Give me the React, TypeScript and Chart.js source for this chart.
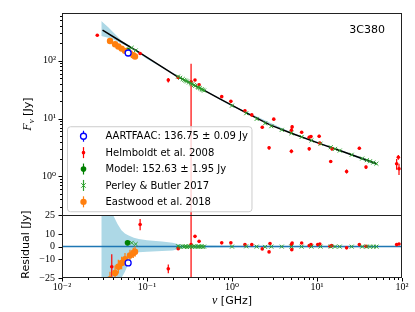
import React, { useEffect, useRef } from "react";
import { Chart, registerables } from "chart.js";

Chart.register(...registerables);

// ---------------- data ----------------
const xTickValues = [0.01, 0.1, 1, 10, 100];
const xTickLabels = ["10⁻²", "10⁻¹", "10⁰", "10¹", "10²"];
const fluxTickValues = [1, 10, 100];
const fluxTickLabels = ["10⁰", "10¹", "10²"];
const resTickValues = [-25, -10, 0, 10, 25];
const resTickLabels = ["−25", "−10", "0", "10", "25"];

// fitted model curve
const modelFreq = [0.03, 0.05, 0.08, 0.15, 0.22, 0.4, 0.72, 1.4, 2.8, 5, 10.8, 20, 50];
const modelFlux = [340, 214, 141, 79, 55, 35, 22, 13.1, 7.8, 5.6, 3.7, 2.7, 1.66];

// model uncertainty band (top panel)
const bandFreq = [0.029, 0.035, 0.04, 0.05, 0.06, 0.07, 0.08, 0.1, 0.2, 0.5, 1, 5, 20, 50];
const bandUpper = [490, 380, 311, 225, 190, 162, 143, 114, 62, 30.5, 17.3, 5.75, 2.78, 1.76];
const bandLower = [270, 250, 235, 200, 176, 154, 137, 108, 60, 29, 16.3, 5.45, 2.62, 1.56];

// model uncertainty band (residual panel)
const resBandFreq = [0.029, 0.033, 0.037, 0.04, 0.045, 0.05, 0.055, 0.06, 0.07, 0.08, 0.1, 0.15, 0.2, 0.25, 0.3, 1, 10, 50];
const resBandUpper = [25, 25, 25, 25, 18, 13, 10.5, 9, 7, 6, 5, 4, 3, 1.5, 1, 0.6, 0.5, 0.5];
const resBandLower = [-25, -25, -25, -25, -25, -25, -20, -14, -6, -4.5, -4, -3.5, -3, -1.5, -1, -0.6, -0.5, -0.5];

const zeroFreq = [0.01, 100];
const zeroRes = [0, 0];

// AARTFAAC
const aartFreq = [0.06];
const aartFlux = [136.75];
const aartErr = [0.09];
const aartRes = [-13];
const aartResErr = [0.09];

// Helmboldt et al. 2008
const helmFreq = [0.026, 0.083, 0.178, 0.233, 0.33, 0.367, 0.41, 0.757, 0.97, 1.42, 1.71, 2.27, 2.73, 3.1, 5.0, 5.1, 5.0, 6.6, 8.1, 8.5, 8.1, 10.6, 10.8, 14.5, 15, 22.3, 31.5, 37.7, 86.5, 90.6, 92.2];
const helmFlux = [277, 134, 46.4, 51.5, 43.4, 46.5, 38.6, 24, 19.9, 13.7, 11.6, 7.08, 3.12, 9.8, 6.3, 7.2, 2.73, 5.8, 4.76, 4.9, 3.0, 4.95, 3.75, 1.81, 3.0, 1.22, 3.07, 1.45, 1.66, 2.15, 1.36];
const helmErr = [10, 5, 4, 2, 46, 2, 2, 1, 1, 0.7, 0.6, 0.4, 0.2, 0.5, 0.8, 0.5, 0.2, 0.3, 0.3, 0.3, 0.2, 0.3, 0.3, 0.1, 0.2, 0.1, 0.2, 0.1, 0.35, 0.2, 0.3];
const helmResFreq = [0.0385, 0.0743, 0.083, 0.178, 0.233, 0.33, 0.367, 0.41, 0.757, 0.97, 1.42, 1.71, 2.27, 2.73, 2.8, 5.0, 5.05, 5.1, 6.6, 8.1, 8.5, 10.2, 10.8, 14.2, 14.9, 22.3, 31.5, 37.7, 86.5, 92.2];
const helmRes = [-16, -4.2, 17.6, -17.7, -1.6, 1.6, 8.2, 4.2, 3, 3, 1.6, 1.6, -1.8, -4.2, 2.5, 1.6, -2.4, 2.9, 2.9, 0.8, 1.6, 1.6, 2.1, 0.2, 0.8, -1, 1.6, 0.2, 1.6, 2.1];
const helmResErr = [10, 0.8, 4.5, 3.5, 0.5, 46, 1, 0.8, 0.5, 0.5, 0.4, 0.4, 0.3, 0.3, 0.3, 0.6, 0.6, 0.6, 0.3, 0.3, 0.3, 0.3, 0.3, 0.2, 0.2, 0.2, 0.2, 0.2, 0.5, 0.5];

// Model value at the AARTFAAC frequency
const modelPtFreq = [0.059];
const modelPtFlux = [152.63];
const modelPtErr = [1.95];
const modelPtRes = [3];
const modelPtResErr = [1.95];

// Perley & Butler 2017
const pbFreq = [0.066, 0.0735, 0.232, 0.246, 0.263, 0.275, 0.285, 0.296, 0.312, 0.328, 0.341, 0.357, 0.37, 0.394, 0.405, 0.42, 0.439, 0.452, 0.469, 1.0, 1.47, 1.95, 2.45, 2.9, 3.85, 5.0, 6.6, 8.6, 11.0, 14.5, 16.3, 18.5, 25.6, 34, 38.5, 42, 46, 50];
const pbFlux = [168, 151, 53.5, 51.0, 48.4, 46.8, 45.4, 44.1, 42.3, 40.6, 39.4, 38.0, 36.9, 35.2, 34.4, 33.4, 32.3, 31.5, 30.6, 16.8, 12.4, 9.9, 8.3, 7.4, 6.4, 5.6, 4.83, 4.2, 3.69, 3.2, 3.0, 2.8, 2.37, 2.04, 1.91, 1.83, 1.74, 1.66];
const pbErr = [3, 3, 1, 1, 1, 1, 1, 1, 1, 1, 1, 1, 1, 1, 1, 1, 1, 1, 1, 0.3, 0.2, 0.2, 0.15, 0.15, 0.1, 0.1, 0.1, 0.1, 0.08, 0.07, 0.06, 0.06, 0.05, 0.05, 0.05, 0.05, 0.05, 0.05];
const pbRes = [3, 2, 0.3, -0.2, 0.2, 0, 0.3, -0.3, 0, 0.2, -0.2, 0.3, 0, -0.2, 0.2, 0, 0.3, -0.3, 0, 0, 0.2, 0, -0.2, 0, 0, 0, 0, 0, 0, 0, 0, 0, 0, 0, 0, 0, 0, 0];

// Eastwood et al. 2018
const eastFreq = [0.0367, 0.0421, 0.046, 0.0503, 0.0551, 0.063, 0.069, 0.0723];
const eastFlux = [221, 194, 177, 163, 149, 136, 125, 119];
const eastErr = [12, 10, 9, 8, 7, 6, 6, 5];
const eastRes = [-26, -21, -16, -13, -10, -7, -5, -4];
const eastResErr = [6, 6, 5.5, 5, 5, 4.5, 4, 4];

// ---------------- styles ----------------
const BLUE = "#0000ff";
const RED = "#ff0000";
const GREEN = "#008000";
const PBGREEN = "#2ca02c";
const ORANGE = "#ff7f0e";
const BAND = "#add8e6";
const ZERO = "#1f77b4";
const TICK_FONT = "'Liberation Serif', 'DejaVu Serif', serif";
const SANS = "'DejaVu Sans', sans-serif";
const MATH = "'Liberation Serif', 'DejaVu Serif', serif";

const pts = (xs: number[], ys: number[]) => xs.map((x, i) => ({ x, y: ys[i] }));

function pointDs(label: string, xs: number[], ys: number[], errs: number[], axis: string, style: any, legend: boolean) {
  return {
    type: "scatter",
    label,
    data: pts(xs, ys),
    errs,
    xAxisID: "x",
    yAxisID: axis,
    legend,
    clip: 0,
    ...style,
  };
}

const styAart = { pointStyle: "circle", pointRadius: 3, backgroundColor: "#ffffff", borderColor: BLUE, borderWidth: 1.3, errColor: BLUE, order: 0 };
const styHelm = { pointStyle: "circle", pointRadius: 1.8, backgroundColor: RED, borderColor: RED, borderWidth: 0, errColor: RED, order: 3 };
const styModel = { pointStyle: "circle", pointRadius: 2.8, backgroundColor: GREEN, borderColor: GREEN, borderWidth: 0, errColor: GREEN, order: 2 };
const styPB = { pointStyle: "crossRot", pointRadius: 2.8, backgroundColor: PBGREEN, borderColor: PBGREEN, borderWidth: 1, errColor: PBGREEN, order: 2 };
const styEast = { pointStyle: "circle", pointRadius: 3.2, backgroundColor: ORANGE, borderColor: ORANGE, borderWidth: 0, errColor: ORANGE, order: 1 };

function lineDs(xs: number[], ys: number[], axis: string, extra: any) {
  return {
    type: "line",
    data: pts(xs, ys),
    xAxisID: "x",
    yAxisID: axis,
    pointRadius: 0,
    tension: 0,
    clip: 0,
    ...extra,
  };
}

// ---------------- plugins ----------------
const errorBarPlugin = {
  id: "errorBars",
  beforeDatasetDraw(chart: any, args: any) {
    const ds: any = chart.data.datasets[args.index];
    if (!ds.errs) return;
    const xs = args.meta.xScale;
    const ys = args.meta.yScale;
    const ctx = chart.ctx;
    ctx.save();
    ctx.beginPath();
    ctx.rect(xs.left, ys.top, xs.right - xs.left, ys.bottom - ys.top);
    ctx.clip();
    ctx.strokeStyle = ds.errColor;
    ctx.lineWidth = 1.2;
    const isLog = ys.type === "logarithmic";
    ds.data.forEach((p: any, i: number) => {
      const e = ds.errs[i] || 0;
      let lo = p.y - e;
      const hi = p.y + e;
      if (isLog && lo <= 0) lo = ys.min / 100;
      const px = xs.getPixelForValue(p.x);
      ctx.beginPath();
      ctx.moveTo(px, ys.getPixelForValue(lo));
      ctx.lineTo(px, ys.getPixelForValue(hi));
      ctx.stroke();
    });
    ctx.restore();
  },
};

function drawSegments(ctx: CanvasRenderingContext2D, segs: { t: string; font: string; dy?: number }[], cx: number, baseline: number) {
  let total = 0;
  for (const s of segs) {
    ctx.font = s.font;
    total += ctx.measureText(s.t).width;
  }
  let x = cx - total / 2;
  ctx.textAlign = "left";
  ctx.textBaseline = "alphabetic";
  for (const s of segs) {
    ctx.font = s.font;
    ctx.fillText(s.t, x, baseline + (s.dy || 0));
    x += ctx.measureText(s.t).width;
  }
}

function drawMarker(ctx: CanvasRenderingContext2D, ds: any, x: number, y: number) {
  const r = ds.pointRadius;
  if (ds.pointStyle === "crossRot") {
    ctx.strokeStyle = ds.borderColor;
    ctx.lineWidth = ds.borderWidth;
    const d = r * 0.8;
    ctx.beginPath();
    ctx.moveTo(x - d, y - d);
    ctx.lineTo(x + d, y + d);
    ctx.moveTo(x - d, y + d);
    ctx.lineTo(x + d, y - d);
    ctx.stroke();
  } else {
    ctx.beginPath();
    ctx.arc(x, y, r, 0, Math.PI * 2);
    ctx.fillStyle = ds.backgroundColor;
    ctx.fill();
    if (ds.borderWidth) {
      ctx.strokeStyle = ds.borderColor;
      ctx.lineWidth = ds.borderWidth;
      ctx.stroke();
    }
  }
}

const decorPlugin = {
  id: "decor",
  afterDraw(chart: any) {
    const ctx: CanvasRenderingContext2D = chart.ctx;
    const x = chart.scales.x;
    const yF = chart.scales.yF;
    const yR = chart.scales.yR;
    ctx.save();
    // ticks
    ctx.strokeStyle = "#000";
    ctx.lineWidth = 1;
    const seg = (x1: number, y1: number, x2: number, y2: number) => {
      ctx.beginPath();
      ctx.moveTo(x1, y1);
      ctx.lineTo(x2, y2);
      ctx.stroke();
    };
    const bottom = Math.round(yR.bottom);
    for (let d = -2; d <= 2; d++) {
      for (let k = 1; k <= 9; k++) {
        const v = k * Math.pow(10, d);
        if (v < x.min * 0.999 || v > x.max * 1.001) continue;
        const px = Math.round(x.getPixelForValue(v)) + 0.5;
        seg(px, bottom, px, bottom + (k === 1 ? 3.5 : 2));
      }
    }
    const left = Math.round(x.left);
    for (let d = -1; d <= 2; d++) {
      for (let k = 1; k <= 9; k++) {
        const v = k * Math.pow(10, d);
        if (v < yF.min || v > yF.max) continue;
        const py = Math.round(yF.getPixelForValue(v)) + 0.5;
        seg(left, py, left - (k === 1 ? 3.5 : 2), py);
      }
    }
    for (const v of resTickValues) {
      const py = Math.round(yR.getPixelForValue(v)) + 0.5;
      seg(left, py, left - 3.5, py);
    }
    // frames
    ctx.strokeStyle = "#222";
    ctx.lineWidth = 1;
    const right = Math.round(x.right);
    ctx.strokeRect(left + 0.5, Math.round(yF.top) + 0.5, right - left - 1, Math.round(yF.bottom) - Math.round(yF.top));
    ctx.strokeRect(left + 0.5, Math.round(yR.top) + 0.5, right - left - 1, Math.round(yR.bottom) - Math.round(yR.top) - 1);

    // axis titles
    ctx.fillStyle = "#000";
    drawSegments(ctx, [
      { t: "ν", font: `italic 12px ${MATH}` },
      { t: " [GHz]", font: `11px ${SANS}` },
    ], (x.left + x.right) / 2, 304);

    ctx.save();
    ctx.translate(31, (yF.top + yF.bottom) / 2);
    ctx.rotate(-Math.PI / 2);
    drawSegments(ctx, [
      { t: "F", font: `italic 12px ${MATH}` },
      { t: "ν", font: `italic 9px ${MATH}`, dy: 2.5 },
      { t: " [Jy]", font: `11px ${SANS}` },
    ], 0, 0);
    ctx.restore();

    ctx.save();
    ctx.translate(28.5, (yR.top + yR.bottom) / 2 - 2);
    ctx.rotate(-Math.PI / 2);
    drawSegments(ctx, [{ t: "Residual [Jy]", font: `11px ${SANS}` }], 0, 0);
    ctx.restore();

    // source name
    ctx.font = `11px ${SANS}`;
    ctx.textAlign = "right";
    ctx.textBaseline = "alphabetic";
    ctx.fillText("3C380", x.right - 17, yF.top + 20);

    // legend
    const items = chart.data.datasets.filter((d: any) => d.legend);
    ctx.font = `10px ${SANS}`;
    let maxW = 0;
    items.forEach((d: any) => { maxW = Math.max(maxW, ctx.measureText(d.label).width); });
    const bx = x.left + 5.5;
    const bh = 85;
    const by = yF.bottom - 3.5 - bh;
    const bw = maxW + 42;
    const rr = 3;
    ctx.beginPath();
    ctx.moveTo(bx + rr, by);
    ctx.lineTo(bx + bw - rr, by);
    ctx.arcTo(bx + bw, by, bx + bw, by + rr, rr);
    ctx.lineTo(bx + bw, by + bh - rr);
    ctx.arcTo(bx + bw, by + bh, bx + bw - rr, by + bh, rr);
    ctx.lineTo(bx + rr, by + bh);
    ctx.arcTo(bx, by + bh, bx, by + bh - rr, rr);
    ctx.lineTo(bx, by + rr);
    ctx.arcTo(bx, by, bx + rr, by, rr);
    ctx.closePath();
    ctx.fillStyle = "rgba(255,255,255,0.8)";
    ctx.fill();
    ctx.strokeStyle = "#cccccc";
    ctx.lineWidth = 1;
    ctx.stroke();
    items.forEach((d: any, i: number) => {
      const cy = by + 9.5 + i * 16.4;
      const mx = bx + 16;
      ctx.strokeStyle = d.errColor;
      ctx.lineWidth = 1.2;
      ctx.beginPath();
      ctx.moveTo(mx, cy - 5.5);
      ctx.lineTo(mx, cy + 5.5);
      ctx.stroke();
      drawMarker(ctx, d, mx, cy);
      ctx.fillStyle = "#000";
      ctx.font = `10px ${SANS}`;
      ctx.textAlign = "left";
      ctx.textBaseline = "middle";
      ctx.fillText(d.label, bx + 38, cy + 0.5);
    });
    ctx.restore();
  },
};

// ---------------- component ----------------
export default function App() {
  const ref = useRef<HTMLCanvasElement>(null);

  useEffect(() => {
    const canvas = ref.current;
    if (!canvas) return;

    const datasets: any[] = [
      // top panel
      lineDs(bandFreq, bandUpper, "yF", { fill: "+1", backgroundColor: BAND, borderColor: "rgba(0,0,0,0)", borderWidth: 0, order: 30 }),
      lineDs(bandFreq, bandLower, "yF", { fill: false, borderColor: "rgba(0,0,0,0)", borderWidth: 0, order: 30 }),
      lineDs(modelFreq, modelFlux, "yF", { fill: false, borderColor: "#000000", borderWidth: 1.5, order: 20 }),
      pointDs("AARTFAAC: 136.75 ± 0.09 Jy", aartFreq, aartFlux, aartErr, "yF", styAart, true),
      pointDs("Helmboldt et al. 2008", helmFreq, helmFlux, helmErr, "yF", styHelm, true),
      pointDs("Model: 152.63 ± 1.95 Jy", modelPtFreq, modelPtFlux, modelPtErr, "yF", styModel, true),
      pointDs("Perley & Butler 2017", pbFreq, pbFlux, pbErr, "yF", styPB, true),
      pointDs("Eastwood et al. 2018", eastFreq, eastFlux, eastErr, "yF", styEast, true),
      // residual panel
      lineDs(resBandFreq, resBandUpper, "yR", { fill: "+1", backgroundColor: BAND, borderColor: "rgba(0,0,0,0)", borderWidth: 0, order: 30 }),
      lineDs(resBandFreq, resBandLower, "yR", { fill: false, borderColor: "rgba(0,0,0,0)", borderWidth: 0, order: 30 }),
      lineDs(zeroFreq, zeroRes, "yR", { fill: false, borderColor: ZERO, borderWidth: 1.5, order: 20 }),
      pointDs("AARTFAAC residual", aartFreq, aartRes, aartResErr, "yR", styAart, false),
      pointDs("Helmboldt residual", helmResFreq, helmRes, helmResErr, "yR", styHelm, false),
      pointDs("Model residual", modelPtFreq, modelPtRes, modelPtResErr, "yR", styModel, false),
      pointDs("Perley & Butler residual", pbFreq, pbRes, pbErr.map(() => 0), "yR", styPB, false),
      pointDs("Eastwood residual", eastFreq, eastRes, eastResErr, "yR", styEast, false),
    ];

    const tickCommon = {
      autoSkip: false,
      maxRotation: 0,
      color: "#000",
      font: { family: TICK_FONT, size: 10 },
    };

    const chart = new Chart(canvas, {
      type: "scatter",
      data: { datasets },
      options: {
        responsive: true,
        maintainAspectRatio: false,
        animation: false,
        events: [],
        layout: { padding: { top: 12, right: 13, bottom: 0, left: 0 } },
        plugins: { legend: { display: false }, tooltip: { enabled: false } },
        scales: {
          x: {
            type: "logarithmic",
            position: "bottom",
            min: 0.01,
            max: 100,
            afterBuildTicks: (s: any) => { s.ticks = xTickValues.map((v) => ({ value: v })); },
            afterFit: (s: any) => { s.height = 34; },
            ticks: { ...tickCommon, padding: 3, callback: (_v: any, i: number) => xTickLabels[i] },
            grid: { display: false, drawTicks: false },
            border: { display: false },
          },
          yR: {
            type: "linear",
            position: "left",
            stack: "panels",
            stackWeight: 63,
            weight: 1,
            min: -25,
            max: 25,
            afterBuildTicks: (s: any) => { s.ticks = resTickValues.map((v) => ({ value: v })); },
            afterFit: (s: any) => { s.width = 62; },
            ticks: { ...tickCommon, padding: 7, callback: (_v: any, i: number) => resTickLabels[i] },
            grid: { display: false, drawTicks: false },
            border: { display: false },
          },
          yF: {
            type: "logarithmic",
            position: "left",
            stack: "panels",
            stackWeight: 203,
            weight: 2,
            min: 0.213,
            max: 673,
            afterBuildTicks: (s: any) => { s.ticks = fluxTickValues.map((v) => ({ value: v })); },
            afterFit: (s: any) => { s.width = 62; },
            ticks: { ...tickCommon, padding: 6, callback: (_v: any, i: number) => fluxTickLabels[i] },
            grid: { display: false, drawTicks: false },
            border: { display: false },
          },
        },
      } as any,
      plugins: [errorBarPlugin, decorPlugin],
    } as any);

    return () => chart.destroy();
  }, []);

  return (
    <div style={{ position: "absolute", left: 0, top: 0, width: 415, height: 312, background: "#ffffff" }}>
      <canvas ref={ref} />
    </div>
  );
}
